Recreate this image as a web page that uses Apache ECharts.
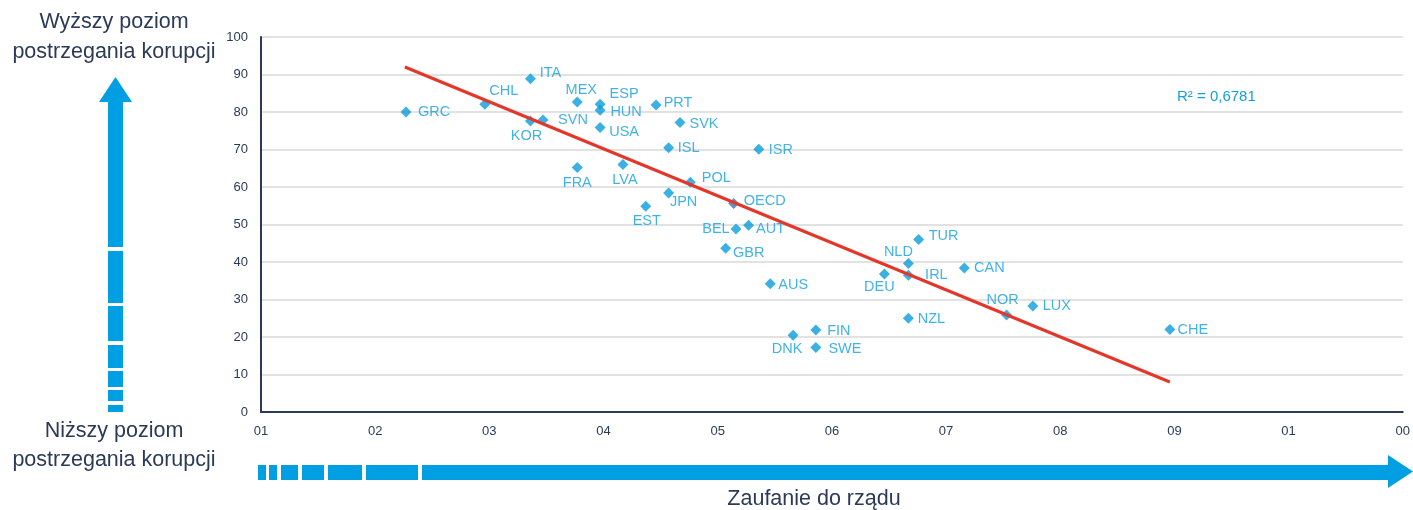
<!DOCTYPE html>
<html><head><meta charset="utf-8">
<script src="https://cdn.jsdelivr.net/npm/echarts@6/dist/echarts.min.js"></script>
<style>html,body{margin:0;padding:0;background:#fff}#c{width:1413px;height:510px}</style>
</head><body><div id="c"></div>
<script>
const countries = ['GRC','CHL','ITA','KOR','SVN','MEX','ESP','HUN','USA','PRT','SVK','ISL','FRA','LVA','JPN','POL','EST','ISR','OECD','BEL','AUT','GBR','AUS','TUR','NLD','DEU','IRL','CAN','NOR','LUX','NZL','FIN','DNK','SWE','CHE'];
const trust = [12.7,19.6,23.6,23.6,24.7,27.7,29.7,29.7,29.7,34.6,36.7,35.7,27.7,31.7,35.7,37.6,33.7,43.6,41.4,41.6,42.7,40.7,44.6,57.6,56.7,54.6,56.7,61.6,65.3,67.6,56.7,48.6,46.6,48.6,79.6];
const corruption = [80.0,82.1,88.9,77.6,77.9,82.7,82.1,80.5,75.9,81.9,77.2,70.5,65.2,66.0,58.4,61.3,54.9,70.1,55.6,48.8,49.8,43.7,34.2,46.0,39.6,36.8,36.5,38.4,25.9,28.3,25.0,21.9,20.5,17.2,22.0];
const trendX = [12.6, 79.6];
const trendY = [92.0, 8.0];
const xTickLabels = ['01','02','03','04','05','06','07','08','09','01','00'];
const r2Text = 'R² = 0,6781';

// label placement (text centre relative to marker centre), layout only
const labelOffsets = {
  GRC:[28,0],CHL:[19,-13],ITA:[20,-6],KOR:[-4,15],SVN:[30,0],MEX:[4,-12],ESP:[24,-10],HUN:[26,2],USA:[24,5],
  PRT:[22,-2],SVK:[24,1],ISL:[20,0],FRA:[0,15],LVA:[2,15],JPN:[15,9],POL:[26,-4],EST:[1,15],ISR:[22,1],
  OECD:[31,-3],BEL:[-20,0],AUT:[22,4],GBR:[23,5],AUS:[23,1],TUR:[25,-4],NLD:[-10,-12],DEU:[-5,13],IRL:[28,0],
  CAN:[25,0],NOR:[-4,-15],LUX:[24,0],NZL:[23,1],FIN:[23,1],DNK:[-6,14],SWE:[29,1],CHE:[23,0]
};

const BLUE = '#0a9ddc';
const NAVY = '#2b3b57';
const FONT = '"Liberation Sans", Arial, sans-serif';

const scatterData = countries.map((c,i)=>({
  value:[trust[i], corruption[i]], name:c,
  label:{offset: labelOffsets[c]},
  itemStyle: c==='OECD' ? {color:'#3b74b9'} : undefined
}));

function vShaft(){
  const segs=[[102,247],[251,303],[306,341],[345,368],[371,387],[390,401],[405,412]];
  return segs.map(s=>({type:'rect',shape:{x:108,y:s[0],width:15,height:s[1]-s[0]},style:{fill:'#009fe3'}}));
}
function hShaft(){
  const segs=[[258,266],[269,277],[281,298],[302,324],[328,362],[366,418],[422,1389]];
  return segs.map(s=>({type:'rect',shape:{x:s[0],y:465,width:s[1]-s[0],height:15},style:{fill:'#009fe3'}}));
}

const TITLE = {fill:NAVY,fontSize:21.5,fontFamily:FONT,align:'center',verticalAlign:'middle'};

const chart = echarts.init(document.getElementById('c'));
chart.setOption({
  animation:false,
  backgroundColor:'#fff',
  textStyle:{fontFamily:FONT},
  grid:{left:261,right:9,top:37,bottom:98,containLabel:false},
  xAxis:{type:'value',min:0,max:100,interval:10,
    axisLine:{show:true,onZero:false,lineStyle:{color:NAVY,width:2}},
    axisTick:{show:false},splitLine:{show:false},
    axisLabel:{margin:13,color:NAVY,fontSize:13,fontFamily:FONT,
      formatter:(v)=>xTickLabels[Math.round(v/10)]}
  },
  yAxis:{type:'value',min:0,max:100,interval:10,
    axisLine:{show:true,lineStyle:{color:NAVY,width:2}},
    axisTick:{show:false},
    splitLine:{show:true,lineStyle:{color:'#d9d9d9',width:1.5}},
    axisLabel:{margin:13,color:NAVY,fontSize:13,fontFamily:FONT}
  },
  series:[
    {type:'scatter',symbol:'diamond',symbolSize:11,z:2,
      itemStyle:{color:BLUE},
      label:{show:true,position:'inside',align:'center',verticalAlign:'middle',
        formatter:'{b}',color:'#129fdf',fontSize:14.5,fontFamily:FONT},
      data:scatterData},
    {type:'line',z:3,symbol:'none',silent:true,
      lineStyle:{color:'#e2372a',width:3},
      data:trendX.map((x,i)=>[x,trendY[i]])}
  ],
  graphic:[
    {type:'text',x:1177,y:97,style:{text:r2Text,fill:'#129fdf',fontSize:15,fontFamily:FONT,align:'left',verticalAlign:'middle'}},
    {type:'text',x:114,y:22,style:Object.assign({text:'Wyższy poziom'},TITLE)},
    {type:'text',x:114,y:52,style:Object.assign({text:'postrzegania korupcji'},TITLE)},
    {type:'text',x:114,y:431,style:Object.assign({text:'Niższy poziom'},TITLE)},
    {type:'text',x:114,y:460,style:Object.assign({text:'postrzegania korupcji'},TITLE)},
    {type:'text',x:814,y:499,style:Object.assign({text:'Zaufanie do rządu'},TITLE)},
    {type:'polygon',shape:{points:[[99,102],[132,102],[115.5,77]]},style:{fill:'#009fe3'}},
    ...vShaft(),
    {type:'polygon',shape:{points:[[1388,455],[1388,488],[1413,471.5]]},style:{fill:'#009fe3'}},
    ...hShaft()
  ]
});
</script>
</body></html>
